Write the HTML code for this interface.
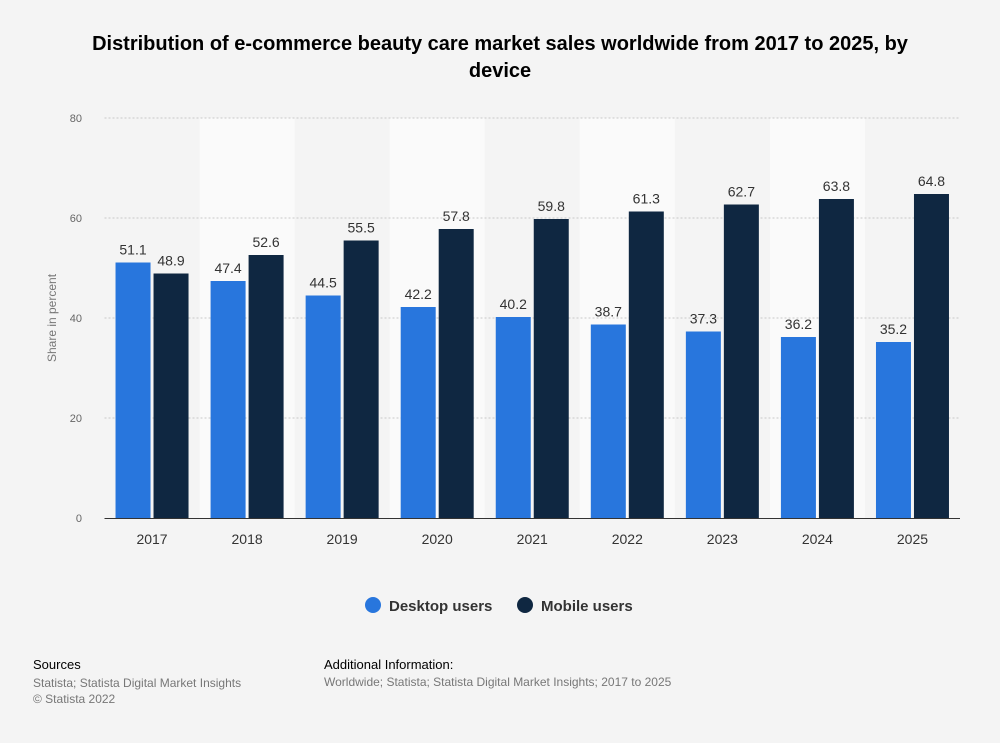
<!DOCTYPE html>
<html><head><meta charset="utf-8"><style>
body{margin:0;background:#f4f4f4;font-family:"Liberation Sans",Arial,sans-serif;}
#wrap{position:relative;width:1000px;height:743px;overflow:hidden;}
.t{position:absolute;}
</style></head><body>
<div id="wrap">
<div class="t" style="left:70px;width:860px;top:31px;text-align:center;font-weight:bold;font-size:20px;line-height:27px;color:#000;">Distribution of e-commerce beauty care market sales worldwide from 2017 to 2025, by device</div>
<svg id="c" width="1000" height="743" style="position:absolute;left:0;top:0"></svg>
<div class="t" style="left:33px;top:657px;font-size:13px;color:#000;">Sources</div>
<div class="t" style="left:33px;top:675px;font-size:12px;line-height:16px;color:#777;">Statista; Statista Digital Market Insights<br>© Statista 2022</div>
<div class="t" style="left:324px;top:657px;font-size:13px;color:#000;">Additional Information:</div>
<div class="t" style="left:324px;top:675px;font-size:12px;color:#777;">Worldwide; Statista; Statista Digital Market Insights; 2017 to 2025</div>
</div>
<script>
const categories=["2017","2018","2019","2020","2021","2022","2023","2024","2025"];
const desktopValues=[51.1,47.4,44.5,42.2,40.2,38.7,37.3,36.2,35.2];
const mobileValues=[48.9,52.6,55.5,57.8,59.8,61.3,62.7,63.8,64.8];
const yTicks=[0,20,40,60,80];
const svg=document.getElementById('c');
const NS='http://www.w3.org/2000/svg';
const L=104.5,R=960,T=118,B=518,yMax=80;
const bw=(R-L)/categories.length;
const y=v=>B-(v/yMax)*(B-T);
const xc=i=>L+bw*(i+0.5);
function mk(tag,attrs,parent){const e=document.createElementNS(NS,tag);for(const k in attrs)e.setAttribute(k,attrs[k]);(parent||svg).appendChild(e);return e;}
categories.forEach((c,i)=>{if(i%2===1){const r=mk('rect',{x:L+bw*i,y:T,width:bw,height:B-T,fill:'#fafafa'});

}});
yTicks.forEach(t=>{
if(t>0){const g=mk('line',{x1:L,x2:R,y1:y(t),y2:y(t),stroke:'#c8c8c8','stroke-dasharray':'2,2'});

}
const tx=mk('text',{x:82,y:y(t)+4,'text-anchor':'end','font-size':11,fill:'#666'});tx.textContent=t;


});
const yt=mk('text',{x:0,y:0,transform:'translate(56,318) rotate(-90)','text-anchor':'middle','font-size':12,fill:'#777'});yt.textContent='Share in percent';


const bwid=35,gap=3;
categories.forEach((c,i)=>{
[[desktopValues,'#2876dd',-1,'desktop'],[mobileValues,'#0f2741',1,'mobile']].forEach(([arr,col,s,n])=>{
const v=arr[i];const x=s<0?xc(i)-gap/2-bwid:xc(i)+gap/2;
const r=mk('rect',{x:x,y:y(v),width:bwid,height:B-y(v),fill:col});


const lb=mk('text',{x:x+bwid/2,y:y(v)-8,'text-anchor':'middle','font-size':14,fill:'#333'});lb.textContent=v.toFixed(1);


});
const xl=mk('text',{x:xc(i),y:544,'text-anchor':'middle','font-size':14,fill:'#333'});xl.textContent=c;


});
const ax=mk('line',{x1:L,x2:R,y1:B+0.5,y2:B+0.5,stroke:'#333','stroke-width':1});


[['Desktop users','#2876dd',373,'legend-desktop'],['Mobile users','#0f2741',525,'legend-mobile']].forEach(([t,col,x,n])=>{
const g=mk('g',{});


mk('circle',{cx:x,cy:605,r:8,fill:col},g);
const tx=mk('text',{x:x+16,y:611,'font-size':15,'font-weight':'bold',fill:'#333'},g);tx.textContent=t;
});
</script>
</body></html>
